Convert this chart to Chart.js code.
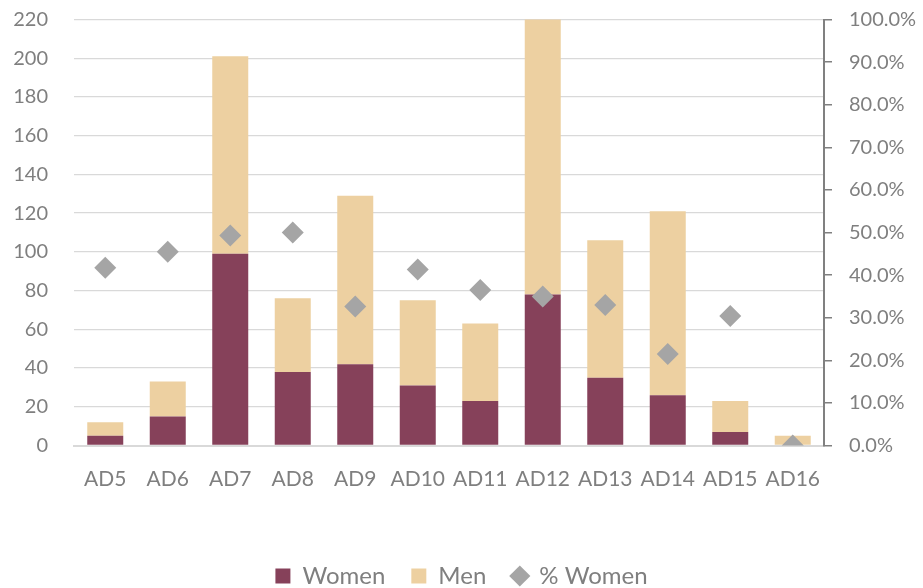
<!DOCTYPE html>
<html>
<head>
<meta charset="utf-8">
<script src="https://cdn.jsdelivr.net/npm/chart.js@4"></script>
<style>
  html, body { margin: 0; padding: 0; background: #fff; }
  #wrap { width: 923px; height: 588px; }
</style>
</head>
<body>
<div id="wrap"><canvas id="c" width="923" height="588"></canvas></div>
<script>
const categories = ['AD5','AD6','AD7','AD8','AD9','AD10','AD11','AD12','AD13','AD14','AD15','AD16'];
const women = [5, 15, 99, 38, 42, 31, 23, 78, 35, 26, 7, 0];
const men = [7, 18, 102, 38, 87, 44, 40, 145, 71, 95, 16, 5];
const pctWomen = [41.7, 45.5, 49.3, 50.0, 32.6, 41.3, 36.5, 35.0, 33.0, 21.5, 30.4, 0.0];
const leftTicks = [0, 20, 40, 60, 80, 100, 120, 140, 160, 180, 200, 220];
const rightTicks = [0, 10, 20, 30, 40, 50, 60, 70, 80, 90, 100];

const FONT = 'Lato, "Open Sans", sans-serif';
const TXT = '#7f7f7f';

new Chart(document.getElementById('c'), {
  data: {
    labels: categories,
    datasets: [
      { type: 'bar', label: 'Women', data: women, backgroundColor: '#86415a', yAxisID: 'y', stack: 's', order: 1,
        barPercentage: 0.576, categoryPercentage: 1.0, pointStyle: 'rect' },
      { type: 'bar', label: 'Men', data: men, backgroundColor: '#edd0a1', yAxisID: 'y', stack: 's', order: 1,
        barPercentage: 0.576, categoryPercentage: 1.0, pointStyle: 'rect' },
      { type: 'line', label: '% Women', data: pctWomen, yAxisID: 'y1', order: 0, showLine: false,
        pointStyle: 'rectRot', pointRadius: 11, pointHoverRadius: 11,
        backgroundColor: '#a5a5a5', borderColor: '#a5a5a5', pointBorderWidth: 0 }
    ]
  },
  options: {
    responsive: false,
    animation: false,
    devicePixelRatio: 1,
    layout: { padding: { top: 19.5, left: 0, right: 0, bottom: -10 } },
    plugins: {
      tooltip: { enabled: false },
      legend: {
        position: 'bottom',
        labels: {
          usePointStyle: true,
          boxWidth: 15, boxHeight: 15,
          padding: 26,
          color: TXT,
          font: { family: FONT, size: 24 },
          sort: (a, b) => a.datasetIndex - b.datasetIndex
        }
      }
    },
    scales: {
      x: {
        stacked: true,
        grid: { display: false, drawTicks: false },
        border: { display: true, color: '#d9d9d9', width: 2 },
        ticks: { color: TXT, font: { family: FONT, size: 21 }, padding: 21.5, maxRotation: 0, autoSkip: false },
        afterFit: (a) => { a.height = 92.5; a.paddingLeft = 0; a.paddingRight = 0; }
      },
      y: {
        stacked: true,
        position: 'left',
        min: 0, max: 220,
        afterBuildTicks: (a) => { a.ticks = leftTicks.map(v => ({ value: v })); },
        grid: { color: '#d9d9d9', lineWidth: 1.3, drawTicks: false },
        border: { display: false },
        ticks: { color: TXT, font: { family: FONT, size: 20 }, padding: 26 },
        afterFit: (a) => { a.width = 74; a.paddingTop = 0; a.paddingBottom = 0; }
      },
      y1: {
        position: 'right',
        min: 0, max: 100,
        afterBuildTicks: (a) => { a.ticks = rightTicks.map(v => ({ value: v })); },
        grid: { drawOnChartArea: false, drawTicks: true, tickLength: 8, color: '#808080', lineWidth: 1.5 },
        border: { display: true, color: '#808080', width: 2 },
        ticks: { color: TXT, font: { family: FONT, size: 20 }, padding: 17,
          callback: (v) => Number(v).toFixed(1) + '%' },
        afterFit: (a) => { a.width = 99; a.paddingTop = 0; a.paddingBottom = 0; }
      }
    }
  }
});
</script>
</body>
</html>
